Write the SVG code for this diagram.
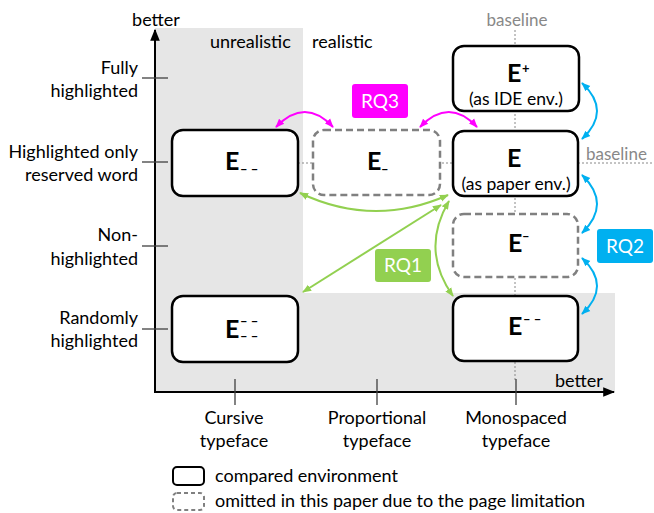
<svg xmlns="http://www.w3.org/2000/svg" width="654" height="513" viewBox="0 0 654 513">
<style>
text{font-family:Lato,"Open Sans","Liberation Sans",sans-serif;fill:#000}
.lbl{font-size:18px}
.r{text-anchor:end}
.m{text-anchor:middle}
.gr{fill:#888}
.big{font-size:25px;font-weight:bold}
.sm{font-size:13px;font-weight:bold}
.env{font-size:17.5px;text-anchor:middle}
.solid{fill:#fff;stroke:#000;stroke-width:2.5}
.dash{fill:#fff;stroke:#808080;stroke-width:2.5;stroke-dasharray:7 4}
.rq{font-size:19px;fill:#fff;text-anchor:middle}
.tick{stroke:#404040;stroke-width:1.3}
.dot{stroke:#888;stroke-width:1;stroke-dasharray:2 2;fill:none}
.mag{stroke:#ff00ff;stroke-width:2;fill:none;marker-start:url(#am);marker-end:url(#am)}
.grn{stroke:#92d050;stroke-width:2;fill:none;marker-start:url(#ag);marker-end:url(#ag)}
.blu{stroke:#00b0f0;stroke-width:2;fill:none;marker-start:url(#ab);marker-end:url(#ab)}
</style>
<defs>
<marker id="am" viewBox="0 0 10 10" refX="9" refY="5" markerWidth="9" markerHeight="9" markerUnits="userSpaceOnUse" orient="auto-start-reverse"><path d="M0,1 L10,5 L0,9 z" fill="#ff00ff"/></marker>
<marker id="ag" viewBox="0 0 10 10" refX="9" refY="5" markerWidth="9" markerHeight="9" markerUnits="userSpaceOnUse" orient="auto-start-reverse"><path d="M0,1 L10,5 L0,9 z" fill="#92d050"/></marker>
<marker id="ab" viewBox="0 0 10 10" refX="9" refY="5" markerWidth="9" markerHeight="9" markerUnits="userSpaceOnUse" orient="auto-start-reverse"><path d="M0,1 L10,5 L0,9 z" fill="#00b0f0"/></marker>
<marker id="ax" viewBox="0 0 10 10" refX="9" refY="5" markerWidth="12" markerHeight="12" markerUnits="userSpaceOnUse" orient="auto"><path d="M0,1 L10,5 L0,9 z" fill="#000"/></marker>
</defs>

<g id="background">
<path d="M155,28 H303 V293 H615 V392 H155 Z" fill="#e6e6e6"/>
</g>

<g id="guides">
<line class="dot" x1="298" y1="163" x2="652" y2="163"/>
<line class="dot" x1="515" y1="30" x2="515" y2="380"/>
<text class="gr m" x="517" y="26" style="font-size:17px">baseline</text>
<text class="gr" x="586" y="160" style="font-size:17px">baseline</text>
<text class="lbl" x="210" y="48">unrealistic</text>
<text class="lbl" x="312" y="48">realistic</text>
</g>

<g id="axes">
<line x1="155" y1="393" x2="155" y2="30" stroke="#000" stroke-width="2" marker-end="url(#ax)"/>
<line x1="155" y1="392" x2="614" y2="392" stroke="#000" stroke-width="2" marker-end="url(#ax)"/>
<text class="lbl m" x="156" y="26">better</text>
<text class="lbl" x="555" y="387">better</text>
<line class="tick" x1="142" y1="78" x2="168" y2="78"/>
<line class="tick" x1="142" y1="162" x2="168" y2="162"/>
<line class="tick" x1="142" y1="246" x2="168" y2="246"/>
<line class="tick" x1="142" y1="329" x2="168" y2="329"/>
<line class="tick" x1="235" y1="379" x2="235" y2="405"/>
<line class="tick" x1="377" y1="379" x2="377" y2="405"/>
<line class="tick" x1="516" y1="379" x2="516" y2="405"/>
<text class="lbl r" x="138" y="74">Fully</text>
<text class="lbl r" x="138" y="97">highlighted</text>
<text class="lbl r" x="138" y="158">Highlighted only</text>
<text class="lbl r" x="138" y="181">reserved word</text>
<text class="lbl r" x="138" y="241">Non-</text>
<text class="lbl r" x="138" y="265">highlighted</text>
<text class="lbl r" x="138" y="324">Randomly</text>
<text class="lbl r" x="138" y="347">highlighted</text>
<text class="lbl m" x="234" y="424">Cursive</text>
<text class="lbl m" x="234" y="447">typeface</text>
<text class="lbl m" x="377" y="424">Proportional</text>
<text class="lbl m" x="377" y="447">typeface</text>
<text class="lbl m" x="516" y="424">Monospaced</text>
<text class="lbl m" x="516" y="447">typeface</text>
</g>

<g id="node-Eplus">
<rect class="solid" x="453" y="46" width="126" height="65" rx="11"/>
<text class="big" x="507" y="82">E<tspan class="sm" x="522" y="73">+</tspan></text>
<text class="env" x="516" y="105">(as IDE env.)</text>
</g>
<g id="node-E">
<rect class="solid" x="453" y="131" width="125" height="65" rx="11"/>
<text class="big" x="507" y="167">E</text>
<text class="env" x="516" y="190">(as paper env.)</text>
</g>
<g id="node-Esup1">
<rect class="dash" x="453" y="214" width="125" height="63" rx="11"/>
<text class="big" x="508" y="252">E<tspan class="sm" x="522" y="241">–</tspan></text>
</g>
<g id="node-Esup2">
<rect class="solid" x="453" y="296" width="125" height="65" rx="11"/>
<text class="big" x="508" y="335">E<tspan class="sm" x="523" y="324">– –</tspan></text>
</g>
<g id="node-Esub2">
<rect class="solid" x="172" y="130" width="126" height="66" rx="11"/>
<text class="big" x="225" y="170">E<tspan class="sm" x="240" y="174">– –</tspan></text>
</g>
<g id="node-Esub1">
<rect class="dash" x="313" y="130" width="127" height="65" rx="11"/>
<text class="big" x="367" y="170">E<tspan class="sm" x="381" y="174">–</tspan></text>
</g>
<g id="node-Esupsub">
<rect class="solid" x="172" y="296" width="126" height="66" rx="11"/>
<text class="big" x="225" y="338">E<tspan class="sm" x="240" y="326">– –</tspan><tspan class="sm" x="240" y="341">– –</tspan></text>
</g>

<g id="connectors">
<path class="mag" d="M276,127 Q305,97 333,127"/>
<path class="mag" d="M420,127 Q449,97 477,127"/>
<path class="grn" d="M300,193 Q374,228 448,195"/>
<path class="grn" d="M303,292 L441,205"/>
<path class="grn" d="M449,201 Q420,250 453,296"/>
<path class="blu" d="M582,83 Q612,111 582,139"/>
<path class="blu" d="M582,175 Q612,204 582,233"/>
<path class="blu" d="M582,258 Q612,286 582,314"/>
</g>

<g id="rq-labels">
<rect x="352" y="84" width="56" height="34" rx="3" fill="#ff00ff"/>
<text class="rq" x="380" y="108">RQ3</text>
<rect x="375" y="249" width="56" height="33" rx="3" fill="#92d050"/>
<text class="rq" x="403" y="272">RQ1</text>
<rect x="597" y="229" width="56" height="34" rx="3" fill="#00b0f0"/>
<text class="rq" x="625" y="253">RQ2</text>
</g>

<g id="legend">
<rect x="173" y="467" width="31" height="18" rx="4" fill="#fff" stroke="#000" stroke-width="2"/>
<text class="lbl" x="215" y="482">compared environment</text>
<rect x="173" y="493" width="31" height="17" rx="4" fill="#fff" stroke="#808080" stroke-width="2" stroke-dasharray="4 3"/>
<text class="lbl" x="215" y="507">omitted in this paper due to the page limitation</text>
</g>
</svg>
